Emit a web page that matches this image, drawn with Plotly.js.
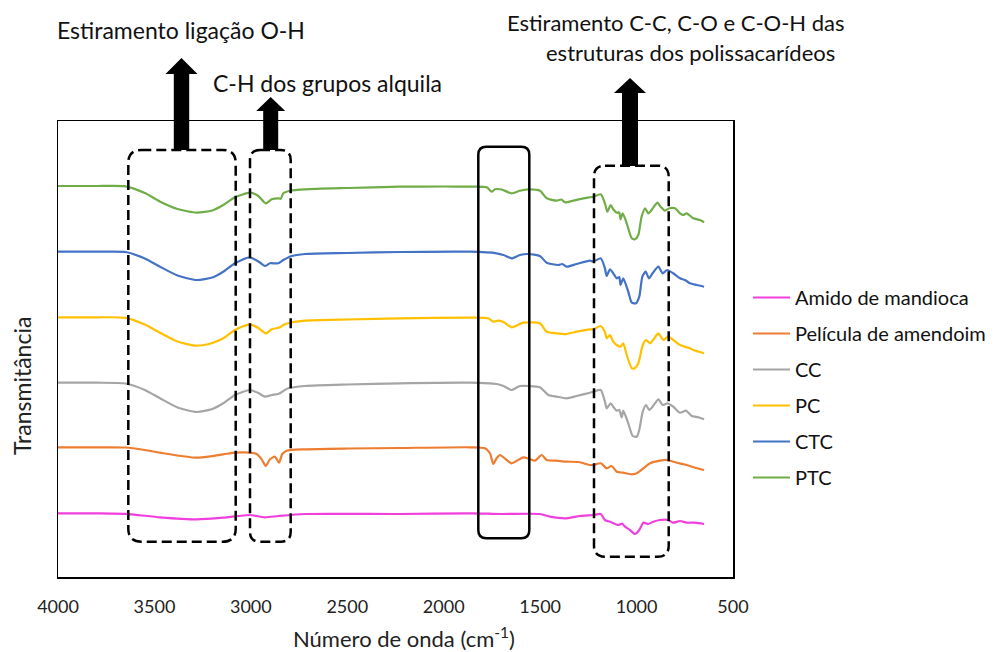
<!DOCTYPE html>
<html>
<head>
<meta charset="utf-8">
<script src="https://cdn.plot.ly/plotly-3.0.1.min.js"></script>
<style>html,body{margin:0;padding:0;background:#fff;}</style>
</head>
<body>
<div id="chart" style="width:995px;height:652px;"></div>
<script>
// ---- data (wavenumber cm-1, transmittance in arbitrary stacked units) ----
const seriesNames = ["Amido de mandioca", "Película de amendoim", "CC", "PC", "CTC", "PTC"];
const seriesColors = ["#F03FDC", "#ED7D31", "#A5A5A5", "#FFC000", "#4472C4", "#70AD47"];

const wnAmido = [4000,3800,3650,3471,3281,3143,3005,2927,2858,2719,2227,1864,1700,1501,1449,1363,1294,1224,1186,1164,1138,1095,1075,1060,1034,1008,986,965,939,913,879,835,810,775,740,697,650];
const tAmido  = [63.7,63.7,63.2,59.7,57.7,59.3,62,59.7,61,63,63,63.7,63,63,60.3,58.7,61,62,63,57,55.3,52,53.5,50.3,47,43,47,54.3,53,55.3,57,57,54.3,56,54.3,54.3,53];

const wnPelicula = [4000,3800,3650,3550,3471,3281,3143,3082,3005,2970,2944,2923,2901,2875,2854,2837,2814,2719,2500,2227,1864,1786,1760,1743,1725,1708,1680,1648,1587,1555,1527,1492,1466,1414,1363,1300,1242,1224,1186,1155,1129,1103,1069,1025,999,965,930,879,844,792,740,697,650];
const tPelicula  = [129.7,129.7,129.5,127,124.3,119.3,122.7,124.3,124.3,123,117.7,111,117.7,120.3,114.3,123,126.3,127.7,128.5,129,129.7,128.7,123.7,113,119,122,118,113.7,119.7,118,116.3,122,117,116.3,115.3,115,112,112,113.7,108.7,111,105.3,104.3,102.7,103.7,108.7,113.7,116.3,117,114.3,112,109.3,107];

const wnCC = [4000,3800,3650,3550,3471,3380,3281,3200,3143,3082,3005,2961,2927,2892,2858,2806,2719,2500,2227,1864,1726,1690,1648,1605,1560,1501,1458,1414,1363,1311,1242,1224,1186,1164,1155,1134,1121,1103,1090,1077,1069,1043,1020,999,986,968,951,934,917,887,865,841,810,775,744,714,680,650];
const tCC  = [194.3,194.3,193.5,187,178.7,169.5,165,168,173.7,182,187,184,180.3,182,183,188.7,191,192.5,193.7,194.3,193,191,187,191,191,189.7,182,180.3,178.7,181,184.3,185.3,187,175.3,168.7,173.7,170.3,166.3,167,159.7,166.3,153.7,141,140.3,147,165.3,172,167,170.3,177.7,172,173.7,170.3,164.3,166.3,161,159.7,157.7];

const wnPC = [4000,3800,3650,3550,3471,3380,3281,3200,3143,3082,3005,2961,2923,2892,2849,2832,2797,2719,2500,2227,1864,1770,1743,1720,1690,1648,1587,1501,1466,1414,1363,1311,1242,1224,1186,1164,1155,1138,1121,1103,1083,1069,1051,1025,1010,991,968,951,930,900,887,861,837,810,775,723,706,650];
const tPC  = [259.7,259.7,259.2,252.5,244.3,235.5,231.3,234,238.7,247,252.7,249,243.7,247.7,249.7,252,254.3,256.3,257.5,258.7,259.3,258.7,255.3,256.3,255,249.7,254.3,253.7,245.3,243.7,243,245.3,247.7,247.7,251,245,238.7,242,235.3,232,230.3,233.7,222,208.7,208.7,213.7,232,237,233.7,241,243.7,237,240.3,237,232,228.7,227,223.7];

const wnCTC = [4000,3800,3650,3550,3471,3380,3281,3200,3143,3082,3005,2961,2927,2901,2858,2832,2788,2719,2500,2227,1864,1726,1690,1648,1605,1561,1501,1466,1406,1385,1363,1311,1242,1224,1186,1164,1155,1138,1121,1103,1090,1083,1069,1043,1025,1003,986,970,953,936,917,887,865,841,810,775,749,723,688,650];
const tCTC  = [325.3,325.3,325,318.5,310.3,301.5,297,299.5,305.3,313.7,319.7,315.5,311,313.7,313.7,317,321,323,324,325,325.3,323.7,322,318.7,322,323,321,314.3,312,313,310.3,313,316.3,315.5,318.7,308.7,301,307.7,303.7,298.7,300,292,298.7,285.3,274.3,273.7,280.3,300.3,305.3,298.7,303.7,310.3,303.7,307,303.7,298.7,297,293.7,292,290.3];

const wnPTC = [4000,3800,3650,3550,3470,3380,3281,3200,3143,3082,3005,2961,2923,2892,2858,2845,2832,2797,2719,2500,2227,2000,1864,1777,1751,1734,1700,1648,1605,1561,1501,1466,1414,1390,1371,1328,1276,1224,1186,1164,1152,1134,1121,1103,1090,1083,1072,1051,1025,1008,991,974,956,939,922,892,875,853,830,801,775,758,740,706,671,650];
const tPTC  = [391,391,390.7,384,375.3,368,364.3,366.5,372,379.7,384.3,381,373.7,377.7,378.7,378.2,383.7,386.3,387.7,389,390.3,390.5,390.3,389.7,385.3,387.7,387.5,383.7,386.3,387.7,386.3,378.7,376.3,377.5,374.7,376.3,378.7,380.3,382.7,373.7,365.3,372,367.7,364.3,364.5,357.7,363.7,353.7,338.7,337.7,342,360.3,368.7,363.7,367,374.3,370.3,366.3,368.7,368.7,363.7,362,363.7,358.7,357,354.7];

const xTickVals = [4000,3500,3000,2500,2000,1500,1000,500];
const xTitle = "Número de onda (cm<sup>-1</sup>)";
const yTitle = "Transmitância";
const notes = ["Estiramento ligação O-H", "C-H dos grupos alquila", "Estiramento C-C, C-O e C-O-H das", "estruturas dos polissacarídeos"];

// ---- geometry helpers (pixel -> paper) ----
const PL = 58, PR = 733, PT = 121, PB = 577;
const X = px => (px - PL) / (PR - PL);
const Y = py => (PB - py) / (PB - PT);
function rr(x0, y0, x1, y1, r) {
  const f = (a, b) => X(a).toFixed(5) + "," + Y(b).toFixed(5);
  return "M" + f(x0 + r, y0) + " L" + f(x1 - r, y0) + " Q" + f(x1, y0) + " " + f(x1, y0 + r) +
    " L" + f(x1, y1 - r) + " Q" + f(x1, y1) + " " + f(x1 - r, y1) +
    " L" + f(x0 + r, y1) + " Q" + f(x0, y1) + " " + f(x0, y1 - r) +
    " L" + f(x0, y0 + r) + " Q" + f(x0, y0) + " " + f(x0 + r, y0) + " Z";
}
function arrow(tx, ty, hb, hw, sw, yb) {
  const f = (a, b) => X(a).toFixed(5) + "," + Y(b).toFixed(5);
  return "M" + f(tx, ty) + " L" + f(tx + hw, hb) + " L" + f(tx + sw, hb) + " L" + f(tx + sw, yb) +
    " L" + f(tx - sw, yb) + " L" + f(tx - sw, hb) + " L" + f(tx - hw, hb) + " Z";
}

const xs = [wnAmido, wnPelicula, wnCC, wnPC, wnCTC, wnPTC];
const ys = [tAmido, tPelicula, tCC, tPC, tCTC, tPTC];
const traces = seriesNames.map((n, i) => ({
  type: "scatter", mode: "lines", name: n, x: xs[i], y: ys[i],
  line: {color: seriesColors[i], width: 2.2, shape: "spline", smoothing: 0.6},
  legendgroup: "g" + i
}));

const FONT = "Lato, 'Open Sans', sans-serif";
const dashBox = {type: "path", xref: "paper", yref: "paper", line: {color: "#000", width: 2.5, dash: "10px,5px"}};
const shapes = [
  Object.assign({}, dashBox, {path: rr(128.3, 150, 235.7, 541.7, 13)}),
  Object.assign({}, dashBox, {path: rr(250, 150, 290.7, 541.7, 10)}),
  Object.assign({}, dashBox, {path: rr(594, 165.7, 668.7, 556.7, 11)}),
  {type: "path", xref: "paper", yref: "paper", line: {color: "#000", width: 2.5}, path: rr(478.3, 146.7, 529.3, 538.3, 8)},
  {type: "path", xref: "paper", yref: "paper", line: {width: 0}, fillcolor: "#000", path: arrow(181.5, 58, 74, 16, 7.7, 150)},
  {type: "path", xref: "paper", yref: "paper", line: {width: 0}, fillcolor: "#000", path: arrow(270.7, 97, 111, 14.5, 7.5, 150)},
  {type: "path", xref: "paper", yref: "paper", line: {width: 0}, fillcolor: "#000", path: arrow(630, 78, 93, 16, 8, 166)}
];

const annFont = {family: FONT, size: 23, color: "#111"};
const axFont = {family: FONT, size: 22, color: "#222"};
const annotations = [
  {xref: "paper", yref: "paper", x: X(181), y: Y(30), text: notes[0], showarrow: false, font: annFont, xanchor: "center", yanchor: "middle"},
  {xref: "paper", yref: "paper", x: X(327), y: Y(83), text: notes[1], showarrow: false, font: annFont, xanchor: "center", yanchor: "middle"},
  {xref: "paper", yref: "paper", x: X(676), y: Y(22), text: notes[2], showarrow: false, font: {family: FONT, size: 22, color: "#111"}, xanchor: "center", yanchor: "middle"},
  {xref: "paper", yref: "paper", x: X(690), y: Y(53), text: notes[3], showarrow: false, font: {family: FONT, size: 22, color: "#111"}, xanchor: "center", yanchor: "middle"},
  {xref: "paper", yref: "paper", x: X(404), y: Y(637), text: xTitle, showarrow: false, font: axFont, xanchor: "center", yanchor: "middle"},
  {xref: "paper", yref: "paper", x: X(22), y: Y(386), text: yTitle, showarrow: false, textangle: -90, font: {family: FONT, size: 23, color: "#222"}, xanchor: "center", yanchor: "middle"}
];

const layout = {
  width: 995, height: 652,
  margin: {l: PL, r: 995 - PR, t: PT, b: 652 - PB, pad: 0, autoexpand: false},
  paper_bgcolor: "#fff", plot_bgcolor: "#fff",
  showlegend: true,
  legend: {x: X(748), y: Y(278), xanchor: "left", yanchor: "top", font: {family: FONT, size: 20, color: "#111"},
           traceorder: "grouped", tracegroupgap: 7, itemwidth: 37, bgcolor: "rgba(0,0,0,0)"},
  xaxis: {range: [4000, 500], tickvals: xTickVals, ticktext: xTickVals.map(String), showgrid: false, zeroline: false,
          showline: true, mirror: true, linecolor: "#000", linewidth: 1.5, ticks: "",
          tickfont: {family: FONT, size: 18, color: "#222"}, ticklabelstandoff: 13},
  yaxis: {range: [0, 456], showticklabels: false, showgrid: false, zeroline: false,
          showline: true, mirror: true, linecolor: "#000", linewidth: 1.5, ticks: ""},
  shapes: shapes, annotations: annotations
};

Plotly.newPlot("chart", traces, layout, {displayModeBar: false, staticPlot: true});
</script>
</body>
</html>
